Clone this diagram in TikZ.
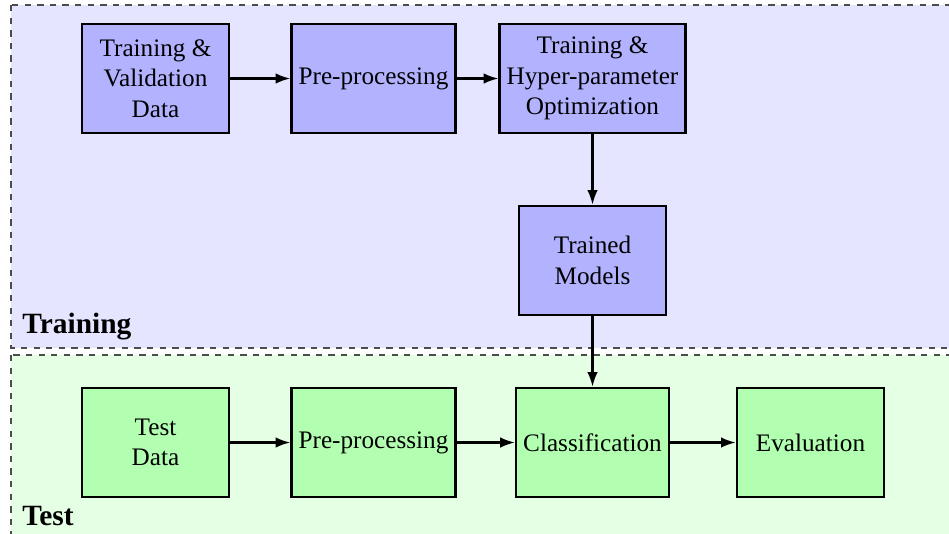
\documentclass[tikz,border=0pt]{standalone}
\usepackage{fontspec}
\setmainfont{LiberationSerif}[Extension=.ttf, UprightFont=*-Regular, BoldFont=*-Bold, ItalicFont=*-Italic, BoldItalicFont=*-BoldItalic]
\usepackage{tikz}
\usetikzlibrary{arrows.meta}

\begin{document}
\begin{tikzpicture}[x=0.476pt,y=0.476pt,yscale=-1,xscale=1,
  trainbox/.style={draw, line width=1.2pt, fill=blue!30, align=center, minimum width=70pt, minimum height=51.9pt, font=\fontsize{12}{14.5}\selectfont},
  testbox/.style={trainbox, fill=green!30},
  flow/.style={-{Latex[length=7pt,width=5pt]}, line width=1pt},
  region/.style={draw=black!70, dashed, line width=0.6pt},
  phase/.style={anchor=base west, inner sep=0pt, font=\fontsize{14}{16}\selectfont\bfseries}]
\useasboundingbox (0,0) rectangle (949,533);

%Shape: Rectangle [id:training]
\draw [region, fill=blue!10] (11,5) rectangle (970,348) ;
%Shape: Rectangle [id:test]
\draw [region, fill=green!10] (11,355) rectangle (970,560) ;

% Text Node
\node [trainbox] (tvdata) at (155.5,78.5) {Training \&\\Validation\\Data};
% Text Node
\node [trainbox] (prepa) at (373.5,78.5) {Pre-processing};
% Text Node
\node [trainbox] (hpo) at (592.5,78.5) {Training \&\\Hyper-parameter\\Optimization};
% Text Node
\node [trainbox] (trained) at (592.5,260.5) {Trained\\Models};
% Text Node
\node [testbox] (testdata) at (155.5,442.5) {Test\\Data};
% Text Node
\node [testbox] (prepb) at (373.5,442.5) {Pre-processing};
% Text Node
\node [testbox] (classif) at (592.5,442.5) {Classification};
% Text Node
\node [testbox] (evalu) at (810.5,442.5) {Evaluation};

%Straight Lines
\draw [flow] (tvdata) -- (prepa) ;
\draw [flow] (prepa) -- (hpo) ;
\draw [flow] (hpo) -- (trained) ;
\draw [flow] (trained) -- (classif) ;
\draw [flow] (testdata) -- (prepb) ;
\draw [flow] (prepb) -- (classif) ;
\draw [flow] (classif) -- (evalu) ;

% Text Node
\node [phase] (trainlabel) at (22,333) {Training};
% Text Node
\node [phase] (testlabel) at (22,525) {Test};

\end{tikzpicture}
\end{document}
